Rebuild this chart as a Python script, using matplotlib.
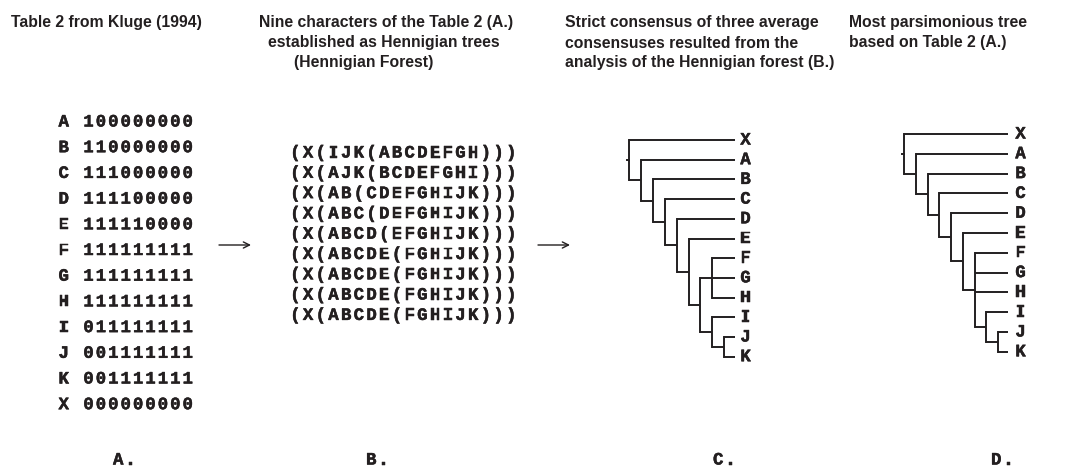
import matplotlib
matplotlib.use("Agg")
import matplotlib.pyplot as plt
import matplotlib.patheffects as pe

# ---------------- data ----------------
taxa = ['A', 'B', 'C', 'D', 'E', 'F', 'G', 'H', 'I', 'J', 'K', 'X']
characters = ['100000000', '110000000', '111000000', '111100000', '111110000',
              '111111111', '111111111', '111111111', '011111111', '001111111',
              '001111111', '000000000']
forest = ['(X(IJK(ABCDEFGH)))', '(X(AJK(BCDEFGHI)))', '(X(AB(CDEFGHIJK)))',
          '(X(ABC(DEFGHIJK)))', '(X(ABCD(EFGHIJK)))', '(X(ABCDE(FGHIJK)))',
          '(X(ABCDE(FGHIJK)))', '(X(ABCDE(FGHIJK)))', '(X(ABCDE(FGHIJK)))']
tree_c = ('X', ('A', ('B', ('C', ('D', ('E', (('F', 'G', 'H'), ('I', ('J', 'K')))))))))
tree_d = ('X', ('A', ('B', ('C', ('D', ('E', ('F', 'G', 'H', ('I', ('J', 'K')))))))))
headers = {
    'A': ['Table 2 from Kluge (1994)'],
    'B': ['Nine characters of the Table 2 (A.)', 'established as Hennigian trees',
          '(Hennigian Forest)'],
    'C': ['Strict consensus of three average', 'consensuses resulted from the',
          'analysis of the Hennigian forest (B.)'],
    'D': ['Most parsimonious tree', 'based on Table 2 (A.)'],
}
panel_labels = ['A.', 'B.', 'C.', 'D.']

# ---------------- figure ----------------
W, H = 1074, 468
fig = plt.figure(figsize=(W / 100, H / 100), dpi=100)
ax = fig.add_axes([0, 0, 1, 1])
ax.set_xlim(0, W)
ax.set_ylim(H, 0)
ax.axis('off')

INK = '#231f20'
SANS = dict(family='Liberation Sans', fontweight='bold', color=INK, fontsize=11.3)
MONO_SIZE = 12.5
ADV = 12.5
BOLD = [pe.withStroke(linewidth=0.35, foreground=INK)]


def mono(x, y, s, adv=ADV, size=MONO_SIZE):
    """Draw a bold, letter-spaced monospace string starting at x."""
    for i, ch in enumerate(s):
        if ch == ' ':
            continue
        ax.text(x + (i + 0.5) * adv, y, ch, ha='center', va='center',
                family='Liberation Mono', fontweight='bold', color=INK,
                fontsize=size, path_effects=BOLD)


# headers
header_pos = {
    'A': [(11, 23)],
    'B': [(259, 23), (268, 43), (294, 63)],
    'C': [(565, 23), (565, 43), (565, 63)],
    'D': [(849, 23), (849, 43)],
}
for key, lines in headers.items():
    for txt, (x, y) in zip(lines, header_pos[key]):
        ax.text(x, y, txt, ha='left', va='center', **SANS)

# Table A
row_y0, row_step = 122, 25.7
for i, (t, c) in enumerate(zip(taxa, characters)):
    mono(57.5, row_y0 + i * row_step, f'{t} {c}', adv=12.4)

# Forest B
f_y0, f_step = 153, 20.3
for i, s in enumerate(forest):
    mono(289, f_y0 + i * f_step, s, adv=12.7)

# arrows
for x0, x1 in [(219, 251), (538, 570)]:
    ax.annotate('', xy=(x1, 245), xytext=(x0, 245),
                arrowprops=dict(arrowstyle='->', lw=1.0, color=INK,
                                mutation_scale=11, shrinkA=0, shrinkB=0))


# trees
def leaves(node):
    if isinstance(node, str):
        return [node]
    out = []
    for ch in node:
        out += leaves(ch)
    return out


def draw_tree(tree, x_root, dx, x_tip, y0, step, lab_dx, lw=1.4):
    order = leaves(tree)
    ypos = {name: y0 + i * step for i, name in enumerate(order)}

    def rec(node, depth):
        x = x_root + depth * dx
        if isinstance(node, str):
            return x_tip, ypos[node]
        child = [rec(ch, depth + 1) for ch in node]
        ys = [c[1] for c in child]
        ax.plot([x, x], [min(ys), max(ys)], color=INK, lw=lw,
                solid_capstyle='projecting')
        for cx, cy in child:
            ax.plot([x, cx], [cy, cy], color=INK, lw=lw,
                    solid_capstyle='butt')
        return x, (ys[0] + ys[-1]) / 2

    rx, ry = rec(tree, 0)
    ax.plot([rx - 2.5, rx], [ry, ry], color=INK, lw=lw)
    for name in order:
        ax.text(x_tip + lab_dx, ypos[name], name, ha='center', va='center',
                family='Liberation Mono', fontweight='bold', color=INK,
                fontsize=MONO_SIZE, path_effects=BOLD)


draw_tree(tree_c, 629, 11.9, 735, 140, 19.7, 10.5)
draw_tree(tree_d, 904, 11.75, 1008, 134, 19.8, 12.5)

# panel labels
for lab, x in zip(panel_labels, [112, 365, 712, 990]):
    mono(x, 460, lab, adv=12.4)

fig.savefig('out.png', dpi=100)
